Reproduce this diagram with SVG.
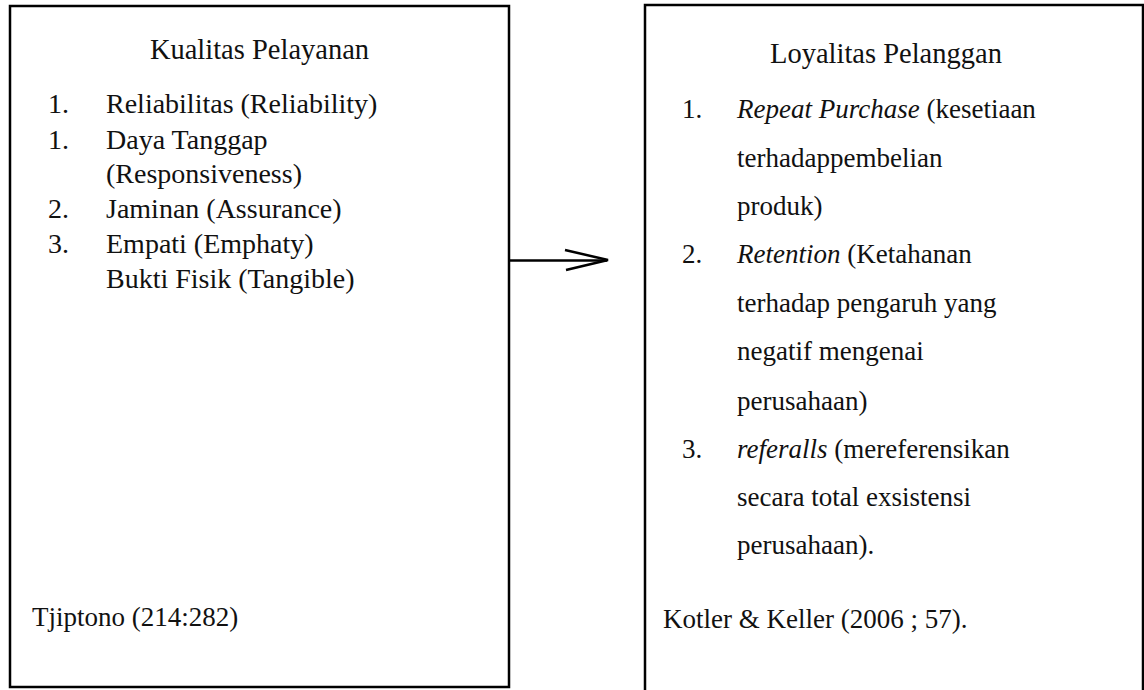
<svg xmlns="http://www.w3.org/2000/svg" width="1144" height="690" viewBox="0 0 1144 690">
<style>
.box{fill:#fff;stroke:#000;stroke-width:2.5}
text{font-family:"Liberation Serif","Times New Roman",serif;font-size:27px;fill:#111}
.title{font-size:28.5px}
.lb{font-size:28px}
.it{font-style:italic}
.conn{stroke:#000;stroke-width:2.5;fill:none}
</style>
<rect width="1144" height="690" fill="#fff"/>
<g id="kualitas">
<rect class="box" x="10" y="6" width="499" height="681"/>
<text class="title" x="259.5" y="59" text-anchor="middle">Kualitas Pelayanan</text>
<text class="lb" x="48" y="113">1.</text><text class="lb" x="106" y="113">Reliabilitas (Reliability)</text>
<text class="lb" x="48" y="149">1.</text><text class="lb" x="106" y="149">Daya Tanggap</text>
<text class="lb" x="106" y="183">(Responsiveness)</text>
<text class="lb" x="48" y="218">2.</text><text class="lb" x="106" y="218">Jaminan (Assurance)</text>
<text class="lb" x="48" y="253">3.</text><text class="lb" x="106" y="253">Empati (Emphaty)</text>
<text class="lb" x="106" y="288">Bukti Fisik (Tangible)</text>
<text x="32" y="626">Tjiptono (214:282)</text>
</g>
<g id="loyalitas">
<rect class="box" x="645" y="5" width="498" height="700"/>
<text class="title" x="770" y="63">Loyalitas Pelanggan</text>
<text x="682" y="118">1.</text><text x="737" y="118"><tspan class="it">Repeat Purchase</tspan> (kesetiaan</text>
<text x="737" y="167">terhadappembelian</text>
<text x="737" y="215">produk)</text>
<text x="682" y="263">2.</text><text x="737" y="263"><tspan class="it">Retention</tspan> (Ketahanan</text>
<text x="737" y="312">terhadap pengaruh yang</text>
<text x="737" y="360">negatif mengenai</text>
<text x="737" y="410">perusahaan)</text>
<text x="682" y="458">3.</text><text x="737" y="458"><tspan class="it">referalls</tspan> (mereferensikan</text>
<text x="737" y="506">secara total exsistensi</text>
<text x="737" y="554">perusahaan).</text>
<text x="663" y="628">Kotler &amp; Keller (2006 ; 57).</text>
</g>
<g id="connectors">
<line class="conn" x1="509" y1="260.5" x2="607" y2="260.5"/>
<polyline class="conn" points="565,250 608,260 566,270"/>
</g>
</svg>
